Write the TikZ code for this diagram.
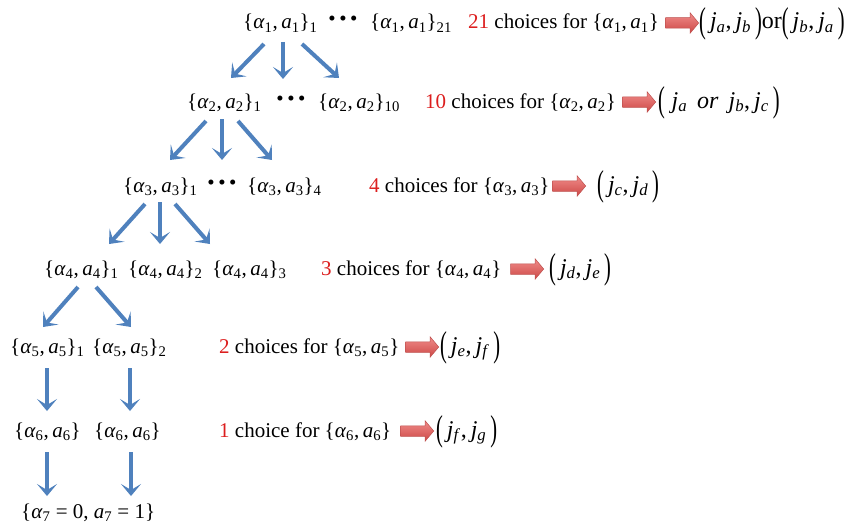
\documentclass[tikz,border=0pt]{standalone}
\usepackage{fontspec}
\usepackage{graphicx}
\setmainfont{Liberation Serif}
\usetikzlibrary{arrows.meta,shapes.arrows}
\newcommand\al[1]{\textit{α}\textsubscript{#1}}
\newcommand\pr[2]{\{\al{#1},\,\textit{a}\textsubscript{#1}\}\textsubscript{#2}}
\newcommand\jj[1]{\textit{j}\textsubscript{\textit{#1}}}
\newcommand\Lp{\raisebox{-3.5pt}{\scalebox{0.85}[1.5]{(}}}
\newcommand\Rp{\raisebox{-3.5pt}{\scalebox{0.85}[1.5]{)}}}
\newcommand\threedots{\raisebox{3pt}{•\hspace{3.5pt}•\hspace{3.5pt}•}}
\definecolor{arrblue}{RGB}{79,129,189}
\definecolor{arrredt}{RGB}{240,140,138}
\definecolor{arrredb}{RGB}{205,72,70}
\definecolor{arrredd}{RGB}{190,80,78}
\definecolor{numred}{RGB}{220,30,30}
\begin{document}
\begin{tikzpicture}[x=1pt,y=-1pt,
  txt/.style={anchor=base west,inner sep=0pt,font=\fontsize{21}{25}\selectfont},
  res/.style={anchor=base west,inner sep=0pt,font=\fontsize{24}{28}\selectfont},
  dots/.style={anchor=base,inner sep=0pt,font=\fontsize{21}{25}\selectfont},
  barrow/.style={draw=arrblue,line width=4pt,-{Stealth[length=12pt,width=20pt,inset=6pt]}},
  rarrow/.style={single arrow,draw=arrredd,top color=arrredt,bottom color=arrredb,line width=0.5pt,minimum height=33pt,minimum width=20pt,single arrow head extend=5pt,inner xsep=0pt,inner ysep=5pt,single arrow tip angle=100}]
\useasboundingbox (0,0) rectangle (859,527);
% row 1
\node[txt] (A1) at (243,29) {\pr{1}{1}};
\node[dots] (D1) at (343,29) {\threedots};
\node[txt] (B1) at (370,29) {\pr{1}{21}};
\node[txt] (C1) at (468,29) {{\color{numred}21} choices for \pr{1}{}};
\node[rarrow] (R1) at (680,23) {};
\node[res] (J1) at (699,29) {\Lp\,\jj{a},\,\jj{b}\,\Rp or\Lp\,\jj{b},\,\jj{a}\,\Rp};
% row 2
\node[txt] (A2) at (187,108) {\pr{2}{1}};
\node[dots] (D2) at (291,108) {\threedots};
\node[txt] (B2) at (318,108) {\pr{2}{10}};
\node[txt] (C2) at (425,108) {{\color{numred}10} choices for \pr{2}{}};
\node[rarrow] (R2) at (637,102) {};
\node[res] (J2) at (658,108) {\Lp\;\jj{a}\, \textit{or}\, \jj{b},\,\jj{c}\,\Rp};
% row 3
\node[txt] (A3) at (123,192) {\pr{3}{1}};
\node[dots] (D3) at (222,192) {\threedots};
\node[txt] (B3) at (247,192) {\pr{3}{4}};
\node[txt] (C3) at (369,192) {{\color{numred}4} choices for \pr{3}{}};
\node[rarrow] (R3) at (567,186) {};
\node[res] (J3) at (597,192) {\Lp\,\jj{c},\,\jj{d}\,\Rp};
% row 4
\node[txt] (A4) at (44,275) {\pr{4}{1}};
\node[txt] (B4) at (128,275) {\pr{4}{2}};
\node[txt] (E4) at (212,275) {\pr{4}{3}};
\node[txt] (C4) at (321,275) {{\color{numred}3} choices for \pr{4}{}};
\node[rarrow] (R4) at (525,269) {};
\node[res] (J4) at (549,275) {\Lp\,\jj{d},\,\jj{e}\,\Rp};
% row 5
\node[txt] (A5) at (10,353) {\pr{5}{1}};
\node[txt] (B5) at (92,353) {\pr{5}{2}};
\node[txt] (C5) at (219,353) {{\color{numred}2} choices for \pr{5}{}};
\node[rarrow] (R5) at (420,347) {};
\node[res] (J5) at (440,353) {\Lp\,\jj{e},\,\jj{f}\,\Rp};
% row 6
\node[txt] (A6) at (14,437) {\pr{6}{}};
\node[txt] (B6) at (94,437) {\pr{6}{}};
\node[txt] (C6) at (219,437) {{\color{numred}1} choice for \pr{6}{}};
\node[rarrow] (R6) at (415,431) {};
\node[res] (J6) at (436,437) {\Lp\,\jj{f},\,\jj{g}\,\Rp};
% row 7
\node[txt] (A7) at (21,518) {\{\al{7} = 0, \textit{a}\textsubscript{7} = 1\}};
% blue arrows coordinates
\coordinate (s1a) at (264,44); \coordinate (t1a) at (231,78);
\coordinate (s1b) at (283,42); \coordinate (t1b) at (283,79);
\coordinate (s1c) at (302,44); \coordinate (t1c) at (339,78);
\coordinate (s2a) at (206,121); \coordinate (t2a) at (170,160);
\coordinate (s2b) at (222,119); \coordinate (t2b) at (222,160);
\coordinate (s2c) at (238,121); \coordinate (t2c) at (272,160);
\coordinate (s3a) at (145,204); \coordinate (t3a) at (109,244);
\coordinate (s3b) at (160,202); \coordinate (t3b) at (160,244);
\coordinate (s3c) at (175,204); \coordinate (t3c) at (210,244);
\coordinate (s4a) at (78,287); \coordinate (t4a) at (43,327);
\coordinate (s4b) at (96,287); \coordinate (t4b) at (131,327);
\coordinate (s5a) at (47,368); \coordinate (t5a) at (47,411);
\coordinate (s5b) at (130,368); \coordinate (t5b) at (130,411);
\coordinate (s6a) at (47,452); \coordinate (t6a) at (47,496);
\coordinate (s6b) at (131,452); \coordinate (t6b) at (131,496);
\foreach \r in {1a,1b,1c,2a,2b,2c,3a,3b,3c,4a,4b,5a,5b,6a,6b}
  \draw[barrow] (s\r) -- (t\r);
\end{tikzpicture}
\end{document}
